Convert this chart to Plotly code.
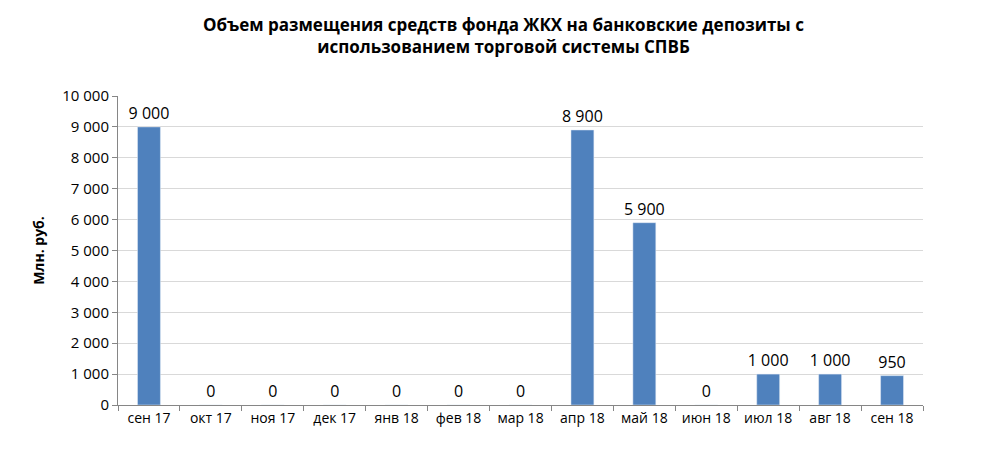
import plotly.graph_objects as go

months = ["сен 17", "окт 17", "ноя 17", "дек 17", "янв 18", "фев 18", "мар 18",
          "апр 18", "май 18", "июн 18", "июл 18", "авг 18", "сен 18"]
volumes = [9000, 0, 0, 0, 0, 0, 0, 8900, 5900, 0, 1000, 1000, 950]
y_ticks = list(range(0, 10001, 1000))


def fmt(v):
    return f"{v:,}".replace(",", " ")


fig = go.Figure(go.Bar(
    x=months, y=volumes,
    marker=dict(color="#4F81BD"),
    width=0.37,
    text=[fmt(v) for v in volumes],
    textposition="outside",
    constraintext="none",
    textfont=dict(size=16, color="black"),
    cliponaxis=False,
))

fig.update_layout(
    width=991, height=455,
    margin=dict(l=110, r=76, t=88, b=58),
    plot_bgcolor="white", paper_bgcolor="white",
    font=dict(family="Open Sans", size=14, color="black"),
    showlegend=False,
    uniformtext=dict(minsize=16, mode="show"),
    title=dict(
        text="<b>Объем размещения средств фонда ЖКХ на банковские депозиты с<br>использованием торговой системы СПВБ</b>",
        x=0.5, xanchor="center", y=0.95, yanchor="top",
        font=dict(size=17),
    ),
    xaxis=dict(
        showline=True, linecolor="#868686",
        ticks="outside", tickson="boundaries", tickcolor="#868686", ticklen=5,
        tickfont=dict(size=14),
    ),
    yaxis=dict(
        range=[0, 10000], tickvals=y_ticks, ticktext=[fmt(v) for v in y_ticks],
        showgrid=True, gridcolor="#D9D9D9",
        showline=True, linecolor="#868686",
        ticks="outside", tickcolor="#868686", ticklen=5,
        tickfont=dict(size=15),
        title=dict(text="<b>Млн. руб.</b>", font=dict(size=14), standoff=14),
    ),
)

fig.write_html("out.html")
